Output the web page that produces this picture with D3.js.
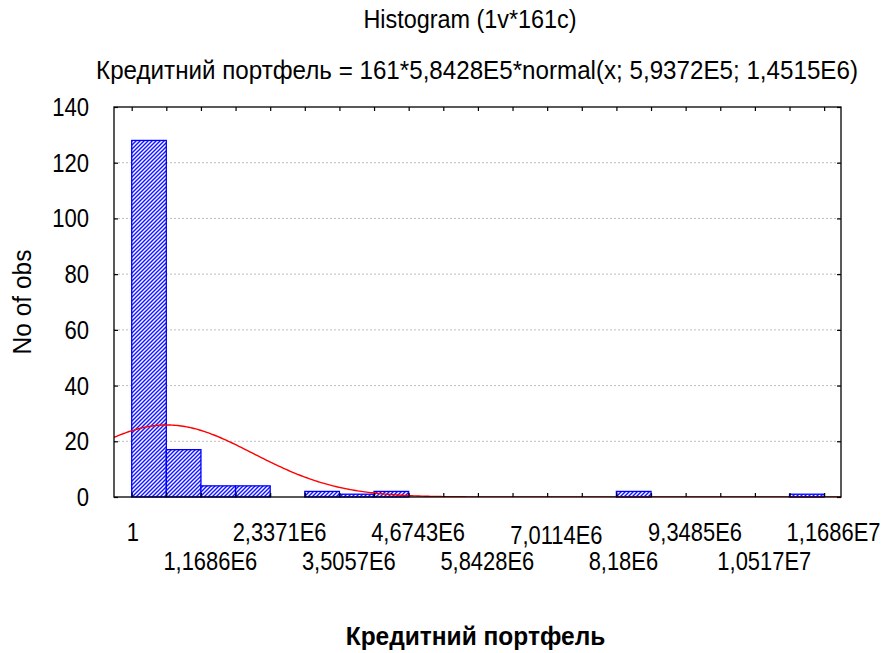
<!DOCTYPE html>
<html>
<head>
<meta charset="utf-8">
<script src="https://cdn.jsdelivr.net/npm/d3@7"></script>
<style>
body { margin: 0; background: #fff; }
svg { display: block; }
text { font-family: "Liberation Sans", Arial, sans-serif; fill: #000; }
</style>
</head>
<body>
<div id="chart"></div>
<script>
// histogram bins (counts per bin)
var binCounts = [128, 17, 4, 4, 0, 2, 1, 2, 0, 0, 0, 0, 0, 0, 2, 0, 0, 0, 0, 1];
var binStart = 1;
var binWidth = 584283;

// x labels sit on every second bin edge
var xTickLabels = ["1", "1,1686E6", "2,3371E6", "3,5057E6", "4,6743E6", "5,8428E6",
                   "7,0114E6", "8,18E6", "9,3485E6", "1,0517E7", "1,1686E7"];
var yTicks = [0, 20, 40, 60, 80, 100, 120, 140];

// fitted normal from the subtitle
var fitN = 161, fitMean = 5.9372E5, fitSd = 1.4515E6;

var titleText = "Histogram (1v*161c)";
var subtitleText = "Кредитний портфель = 161*5,8428E5*normal(x; 5,9372E5; 1,4515E6)";
var xTitleText = "Кредитний портфель";
var yTitleText = "No of obs";

function addText(parent, x, y, str, size, sx, anchor, weight) {
    return parent.append("text")
        .attr("transform", "translate(" + x + "," + y + ") scale(" + sx + ",1)")
        .attr("text-anchor", anchor || "middle")
        .style("font-size", size + "px")
        .style("font-weight", weight || "normal")
        .text(str);
}

function drawHistogram() {
    var W = 881, H = 653;
    var margin = {top: 107, right: 40, bottom: 156, left: 114};
    var width = W - margin.left - margin.right;
    var height = H - margin.top - margin.bottom;

    var svg = d3.select("#chart").append("svg")
        .attr("width", W)
        .attr("height", H);

    var defs = svg.append("defs");
    var pat = defs.append("pattern")
        .attr("id", "hatch")
        .attr("patternUnits", "userSpaceOnUse")
        .attr("width", 4)
        .attr("height", 4);
    pat.append("rect").attr("width", 4).attr("height", 4).attr("fill", "#fff");
    pat.append("path")
        .attr("d", "M-1,1 l2,-2 M0,4 l4,-4 M3,5 l2,-2")
        .attr("stroke", "#1818ff")
        .attr("stroke-width", 1.5);

    defs.append("clipPath").attr("id", "plotClip")
        .append("rect").attr("width", width).attr("height", height);

    var g = svg.append("g")
        .attr("transform", "translate(" + margin.left + "," + margin.top + ")");

    // left edge of plot is half a bin before the first edge
    var x = d3.scaleLinear()
        .domain([binStart - 0.511 * binWidth, binStart + 20.487 * binWidth])
        .range([0, width]);
    var y = d3.scaleLinear().domain([0, 140]).range([height, 0]);

    var edges = d3.range(binCounts.length + 1).map(function(i) { return binStart + i * binWidth; });

    // gridlines
    g.selectAll(".grid")
        .data(yTicks.filter(function(d) { return d > 0 && d < 140; }))
        .enter().append("line")
        .attr("x1", 0).attr("x2", width)
        .attr("y1", function(d) { return y(d); })
        .attr("y2", function(d) { return y(d); })
        .attr("stroke", "#bdbdbd")
        .attr("stroke-width", 1)
        .attr("stroke-dasharray", "2,2");

    // bars
    var bars = binCounts.map(function(c, i) { return {x0: edges[i], x1: edges[i + 1], count: c}; })
        .filter(function(d) { return d.count > 0; });

    g.selectAll(".bar")
        .data(bars)
        .enter().append("rect")
        .attr("class", "bar")
        .attr("x", function(d) { return x(d.x0); })
        .attr("y", function(d) { return y(d.count); })
        .attr("width", function(d) { return x(d.x1) - x(d.x0); })
        .attr("height", function(d) { return y(0) - y(d.count); })
        .attr("fill", "url(#hatch)")
        .attr("stroke", "#0000ff")
        .attr("stroke-width", 1.3);

    // normal curve
    var xs = d3.range(0, 401).map(function(i) { return x.domain()[0] + i * (x.domain()[1] - x.domain()[0]) / 400; });
    var norm = function(v) {
        var z = (v - fitMean) / fitSd;
        return fitN * binWidth * Math.exp(-0.5 * z * z) / (fitSd * Math.sqrt(2 * Math.PI));
    };
    g.append("path")
        .datum(xs)
        .attr("clip-path", "url(#plotClip)")
        .attr("fill", "none")
        .attr("stroke", "#ff0000")
        .attr("stroke-width", 1.4)
        .attr("d", d3.line().x(function(d) { return x(d); }).y(function(d) { return y(norm(d)); }));

    // frame and inward ticks
    g.append("rect")
        .attr("width", width).attr("height", height)
        .attr("fill", "none").attr("stroke", "#000").attr("stroke-width", 1.3);

    g.append("g").attr("transform", "translate(0," + height + ")")
        .call(d3.axisTop(x).tickValues(edges).tickSize(4).tickFormat(""))
        .call(function(s) { s.select(".domain").remove(); });
    g.append("g")
        .call(d3.axisBottom(x).tickValues(edges).tickSize(4).tickFormat(""))
        .call(function(s) { s.select(".domain").remove(); });
    g.append("g")
        .call(d3.axisRight(y).tickValues(yTicks).tickSize(4).tickFormat(""))
        .call(function(s) { s.select(".domain").remove(); });
    g.append("g").attr("transform", "translate(" + width + ",0)")
        .call(d3.axisLeft(y).tickValues(yTicks).tickSize(4).tickFormat(""))
        .call(function(s) { s.select(".domain").remove(); });
    g.selectAll(".tick line").attr("stroke", "#000").attr("stroke-width", 1.2);

    // y tick labels
    yTicks.forEach(function(v) {
        addText(g, -25, y(v) + 9, String(v), 26, 0.85, "end");
    });

    // x tick labels, staggered in two rows
    var sx = 0.86;
    xTickLabels.forEach(function(lab, i) {
        var t = addText(g, 0, 0, lab, 25.5, sx, "middle");
        var w = t.node().getComputedTextLength() * sx;
        var row = i % 2;
        var yy = height + 44 + row * 28.5 + (i === 6 ? 3 : 0);
        t.attr("transform", "translate(" + (x(edges[i * 2]) + w * 0.1) + "," + yy + ") scale(" + sx + ",1)");
    });

    // titles
    addText(svg, 470, 28, titleText, 26, 0.9, "middle");
    addText(svg, 477, 79, subtitleText, 26, 0.93, "middle");
    addText(svg, margin.left + width / 2 - 2, 645, xTitleText, 25, 0.98, "middle", "bold");

    svg.append("text")
        .attr("transform", "translate(31," + (margin.top + height / 2) + ") rotate(-90) scale(0.98,1)")
        .attr("text-anchor", "middle")
        .style("font-size", "25px")
        .text(yTitleText);
}

drawHistogram();
</script>
</body>
</html>
